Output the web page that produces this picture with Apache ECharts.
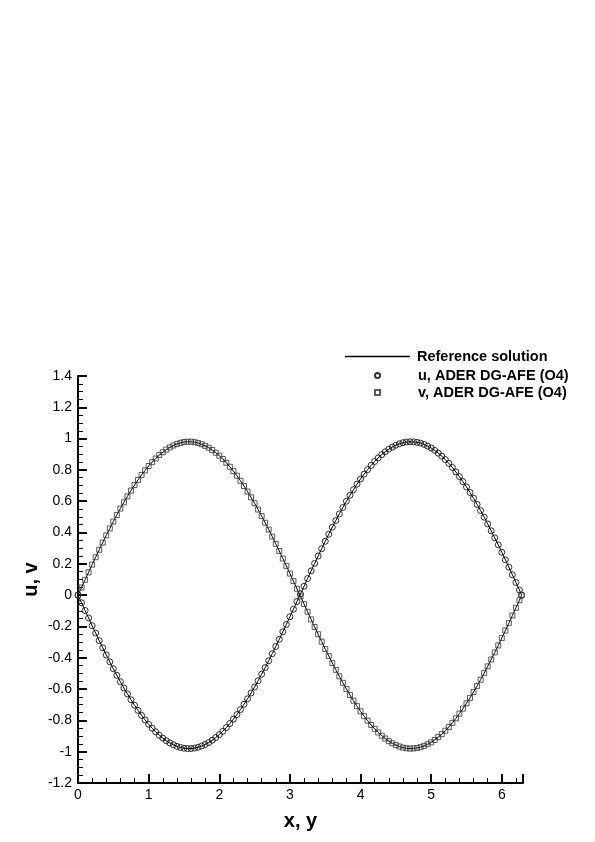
<!DOCTYPE html>
<html>
<head>
<meta charset="utf-8">
<script src="https://cdn.jsdelivr.net/npm/echarts@6/dist/echarts.min.js"></script>
<style>
  html, body { margin: 0; padding: 0; background: #fff; }
  #chart { width: 595px; height: 842px; }
</style>
</head>
<body>
<div id="chart"></div>
<script>
// sample positions along the cut (x or y)
var xs = [0, 0.05, 0.1, 0.15, 0.2, 0.25, 0.3, 0.35, 0.4, 0.45, 0.5, 0.55, 0.6, 0.65, 0.7, 0.75, 0.8, 0.85, 0.9, 0.95,
  1, 1.05, 1.1, 1.15, 1.2, 1.25, 1.3, 1.35, 1.4, 1.45, 1.5, 1.55, 1.6, 1.65, 1.7, 1.75, 1.8, 1.85, 1.9, 1.95,
  2, 2.05, 2.1, 2.15, 2.2, 2.25, 2.3, 2.35, 2.4, 2.45, 2.5, 2.55, 2.6, 2.65, 2.7, 2.75, 2.8, 2.85, 2.9, 2.95,
  3, 3.05, 3.1, 3.15, 3.2, 3.25, 3.3, 3.35, 3.4, 3.45, 3.5, 3.55, 3.6, 3.65, 3.7, 3.75, 3.8, 3.85, 3.9, 3.95,
  4, 4.05, 4.1, 4.15, 4.2, 4.25, 4.3, 4.35, 4.4, 4.45, 4.5, 4.55, 4.6, 4.65, 4.7, 4.75, 4.8, 4.85, 4.9, 4.95,
  5, 5.05, 5.1, 5.15, 5.2, 5.25, 5.3, 5.35, 5.4, 5.45, 5.5, 5.55, 5.6, 5.65, 5.7, 5.75, 5.8, 5.85, 5.9, 5.95,
  6, 6.05, 6.1, 6.15, 6.2, 6.25, 6.28];

// v (squares) - starts going up
var vVals = [0, 0.049, 0.098, 0.146, 0.195, 0.242, 0.290, 0.336, 0.382, 0.426, 0.470, 0.512, 0.553, 0.593, 0.631, 0.668, 0.703, 0.736, 0.768, 0.797,
  0.825, 0.850, 0.873, 0.895, 0.913, 0.930, 0.944, 0.956, 0.966, 0.973, 0.978, 0.980, 0.980, 0.977, 0.972, 0.964, 0.954, 0.942, 0.927, 0.910,
  0.891, 0.870, 0.846, 0.820, 0.792, 0.763, 0.731, 0.697, 0.662, 0.625, 0.587, 0.547, 0.505, 0.463, 0.419, 0.374, 0.328, 0.282, 0.234, 0.187,
  0.138, 0.090, 0.041, -0.008, -0.057, -0.106, -0.155, -0.203, -0.250, -0.297, -0.344, -0.389, -0.434, -0.477, -0.519, -0.560, -0.600, -0.638, -0.674, -0.709,
  -0.742, -0.773, -0.802, -0.829, -0.854, -0.877, -0.898, -0.916, -0.933, -0.946, -0.958, -0.967, -0.974, -0.978, -0.980, -0.979, -0.976, -0.971, -0.963, -0.952,
  -0.940, -0.925, -0.907, -0.888, -0.866, -0.842, -0.816, -0.787, -0.757, -0.725, -0.691, -0.656, -0.619, -0.580, -0.540, -0.498, -0.455, -0.411, -0.366, -0.321,
  -0.274, -0.226, -0.179, -0.130, -0.081, -0.033, 0];

// u (circles) - starts going down
var uVals = [0, -0.049, -0.098, -0.146, -0.195, -0.242, -0.290, -0.336, -0.382, -0.426, -0.470, -0.512, -0.553, -0.593, -0.631, -0.668, -0.703, -0.736, -0.768, -0.797,
  -0.825, -0.850, -0.873, -0.895, -0.913, -0.930, -0.944, -0.956, -0.966, -0.973, -0.978, -0.980, -0.980, -0.977, -0.972, -0.964, -0.954, -0.942, -0.927, -0.910,
  -0.891, -0.870, -0.846, -0.820, -0.792, -0.763, -0.731, -0.697, -0.662, -0.625, -0.587, -0.547, -0.505, -0.463, -0.419, -0.374, -0.328, -0.282, -0.234, -0.187,
  -0.138, -0.090, -0.041, 0.008, 0.057, 0.106, 0.155, 0.203, 0.250, 0.297, 0.344, 0.389, 0.434, 0.477, 0.519, 0.560, 0.600, 0.638, 0.674, 0.709,
  0.742, 0.773, 0.802, 0.829, 0.854, 0.877, 0.898, 0.916, 0.933, 0.946, 0.958, 0.967, 0.974, 0.978, 0.980, 0.979, 0.976, 0.971, 0.963, 0.952,
  0.940, 0.925, 0.907, 0.888, 0.866, 0.842, 0.816, 0.787, 0.757, 0.725, 0.691, 0.656, 0.619, 0.580, 0.540, 0.498, 0.455, 0.411, 0.366, 0.321,
  0.274, 0.226, 0.179, 0.130, 0.081, 0.033, 0];

var legendNames = ['Reference solution', 'u, ADER DG-AFE (O4)', 'v, ADER DG-AFE (O4)'];

function pairs(xArr, yArr) {
  var out = [];
  for (var i = 0; i < xArr.length; i++) out.push([xArr[i], yArr[i]]);
  return out;
}

var font = "'Liberation Sans', Arial, Helvetica, sans-serif";
var legendText = { fontFamily: font, fontSize: 14.5, fontWeight: 'bold', color: '#000' };
var chart = echarts.init(document.getElementById('chart'));

var option = {
  backgroundColor: '#fff',
  animation: false,
  textStyle: { fontFamily: font },
  grid: { left: 78, right: 72, top: 376, bottom: 59, containLabel: false },
  legend: [
    {
      // line entry
      orient: 'vertical',
      left: 340,
      top: 344,
      itemWidth: 65,
      itemHeight: 1.5,
      textStyle: Object.assign({ padding: [0, 0, 0, 2] }, legendText),
      data: [{ name: legendNames[0], icon: 'rect', itemStyle: { color: '#000' } }]
    },
    {
      // marker entries
      orient: 'vertical',
      left: 369,
      top: 363,
      itemWidth: 5,
      itemHeight: 5,
      itemGap: 2,
      textStyle: Object.assign({ padding: [0, 0, 0, 33] }, legendText),
      data: [
        { name: legendNames[1], icon: 'circle' },
        { name: legendNames[2], icon: 'rect' }
      ]
    }
  ],
  xAxis: {
    type: 'value',
    min: 0,
    max: 6.3,
    interval: 1,
    name: 'x, y',
    nameLocation: 'middle',
    nameGap: 28,
    nameTextStyle: { fontFamily: font, fontSize: 20, fontWeight: 'bold', color: '#000' },
    axisLine: { show: true, onZero: false, lineStyle: { color: '#000', width: 2 } },
    axisTick: { show: true, inside: true, length: 9, lineStyle: { color: '#000', width: 2 } },
    minorTick: { show: true, splitNumber: 5, length: 5, lineStyle: { color: '#000', width: 1 } },
    axisLabel: { color: '#000', fontSize: 14, margin: 5, showMaxLabel: false, fontFamily: font },
    splitLine: { show: false }
  },
  yAxis: {
    type: 'value',
    min: -1.2,
    max: 1.4,
    interval: 0.2,
    name: 'u, v',
    nameLocation: 'middle',
    nameGap: 37,
    nameRotate: 90,
    nameMoveOverlap: false,
    nameTextStyle: { fontFamily: font, fontSize: 20, fontWeight: 'bold', color: '#000' },
    axisLine: { show: true, onZero: false, lineStyle: { color: '#000', width: 2 } },
    axisTick: { show: true, inside: true, length: 9, lineStyle: { color: '#000', width: 2 } },
    minorTick: { show: true, splitNumber: 4, length: 5, lineStyle: { color: '#000', width: 1 } },
    axisLabel: {
      color: '#000', fontSize: 14, margin: 6, fontFamily: font,
      formatter: function (v) { return String(Math.round(v * 10) / 10); }
    },
    splitLine: { show: false }
  },
  series: [
    {
      name: legendNames[0],
      type: 'line',
      data: pairs(xs, uVals),
      showSymbol: false,
      symbol: 'none',
      lineStyle: { color: '#000', width: 1 },
      itemStyle: { color: '#000' },
      z: 2
    },
    {
      name: legendNames[0],
      type: 'line',
      data: pairs(xs, vVals),
      showSymbol: false,
      symbol: 'none',
      lineStyle: { color: '#000', width: 1 },
      itemStyle: { color: '#000' },
      z: 2
    },
    {
      name: legendNames[1],
      type: 'scatter',
      data: pairs(xs, uVals),
      symbol: 'circle',
      symbolSize: 6,
      itemStyle: { color: 'rgba(0,0,0,0)', borderColor: '#000', borderWidth: 1 },
      z: 3
    },
    {
      name: legendNames[2],
      type: 'scatter',
      data: pairs(xs, vVals),
      symbol: 'rect',
      symbolSize: 5,
      itemStyle: { color: 'rgba(0,0,0,0)', borderColor: '#333', borderWidth: 1 },
      z: 3
    }
  ]
};

chart.setOption(option);
</script>
</body>
</html>
